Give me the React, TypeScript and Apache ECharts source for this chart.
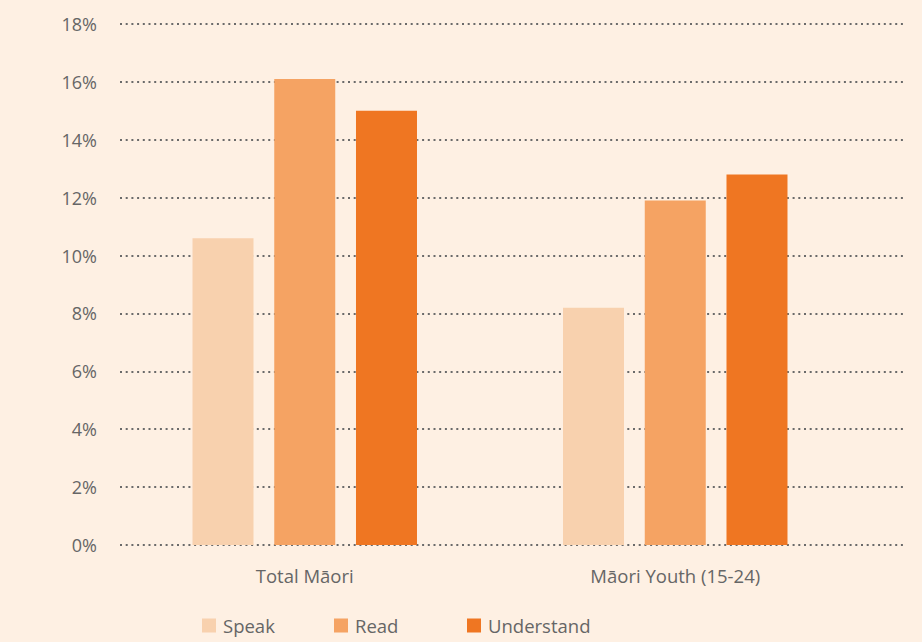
import React, { useEffect, useRef } from "react";
import * as echarts from "echarts";

const categories = ["Total Māori", "Māori Youth (15-24)"];
const speak = [10.6, 8.2];
const read = [16.1, 11.9];
const understand = [15.0, 12.8];
const seriesNames = ["Speak", "Read", "Understand"];
const colors = ["#F8D1AE", "#F5A363", "#EF7622"];

const FONT = "'Open Sans', 'Noto Sans', sans-serif";
const TEXT = "#666666";

export default function App() {
  const ref = useRef<HTMLDivElement>(null);
  useEffect(() => {
    if (!ref.current) return;
    const chart = echarts.init(ref.current, null, { renderer: "svg" });
    const legendBase = {
      bottom: 2,
      itemWidth: 14,
      itemHeight: 14,
      icon: "rect",
      textStyle: { color: TEXT, fontSize: 18.5, fontFamily: FONT, padding: [0, 0, 0, 2] },
    };
    chart.setOption({
      animation: false,
      backgroundColor: "#FEF0E3",
      grid: [
        { left: 120, right: 16, top: 24, bottom: 97, containLabel: false },
        { left: 119.5, width: 741, top: 24, bottom: 97, containLabel: false },
      ],
      legend: [
        { ...legendBase, left: 197, data: ["Speak"] },
        { ...legendBase, left: 329, data: ["Read"] },
        { ...legendBase, left: 462, data: ["Understand"] },
      ],
      xAxis: [
        { gridIndex: 0, type: "value", show: false, min: 0, max: 1 },
        {
          gridIndex: 1,
          type: "category",
          data: categories,
          axisLine: { show: false },
          axisTick: { show: false },
          axisLabel: { color: TEXT, fontSize: 18.5, fontFamily: FONT, margin: 21 },
        },
      ],
      yAxis: [
        {
          gridIndex: 0,
          type: "value",
          min: 0,
          max: 18,
          interval: 2,
          axisLine: { show: false },
          axisTick: { show: false },
          axisLabel: {
            color: TEXT,
            fontSize: 18,
            fontFamily: FONT,
            margin: 23,
            formatter: (v: number) => `${v}%`,
          },
          splitLine: {
            show: true,
            lineStyle: { color: "#6a6a6a", width: 2, type: [2, 3.7] },
          },
        },
        {
          gridIndex: 1,
          type: "value",
          min: 0,
          max: 18,
          interval: 2,
          show: false,
          splitLine: { show: false },
        },
      ],
      series: [speak, read, understand].map((d, i) => ({
        name: seriesNames[i],
        type: "bar",
        xAxisIndex: 1,
        yAxisIndex: 1,
        data: d,
        barWidth: 61,
        barGap: "34%",
        itemStyle: { color: colors[i] },
      })),
    });
    return () => chart.dispose();
  }, []);
  return <div ref={ref} style={{ width: 922, height: 642, position: "absolute", left: 0, top: 0 }} />;
}
